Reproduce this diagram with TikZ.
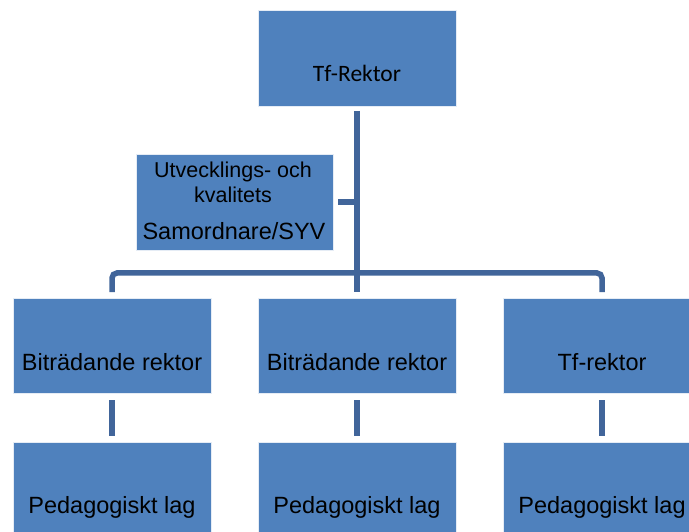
\documentclass[tikz,border=0pt]{standalone}
\usepackage{fontspec}
\setmainfont{Liberation Sans}
\newfontfamily\calib{Carlito}
\definecolor{boxblue}{HTML}{4F81BD}
\definecolor{lineblue}{HTML}{41659A}
\begin{document}
\begin{tikzpicture}[x=1pt,y=-1pt,
  box/.style={draw=white!85!boxblue,line width=0.6pt,fill=boxblue,minimum width=198pt,minimum height=96pt,inner sep=0pt,outer sep=0pt},
  lbl/.style={anchor=base,inner sep=0pt,font=\fontsize{23.5pt}{26pt}\selectfont},
  conn/.style={draw=lineblue,line width=5.5pt}]
\useasboundingbox (0,0) rectangle (689,532);
\begin{scope}
\clip (0,0) rectangle (689,532);
% boxes
\node[box] (top) at (357,58) {};
\node[box,minimum width=197pt] (side) at (234.5,202) {};
\node[box,minimum height=95pt] (b1) at (112,345.5) {};
\node[box,minimum height=95pt] (b2) at (357,345.5) {};
\node[box,minimum height=95pt] (b3) at (602,345.5) {};
\node[box] (p1) at (112,490) {};
\node[box] (p2) at (357,490) {};
\node[box] (p3) at (602,490) {};
% labels
\node[lbl,font=\calib\fontsize{23.5pt}{26pt}\selectfont] (ttop) at (357,82) {Tf-Rektor};
\node[lbl,font=\fontsize{21.5pt}{24pt}\selectfont] (ts1) at (233,178) {Utvecklings- och};
\node[lbl,font=\fontsize{21.5pt}{24pt}\selectfont] (ts2) at (233,203) {kvalitets};
\node[lbl] (ts3) at (234,240) {Samordnare/SYV};
\node[lbl] (tb1) at (112,370) {Biträdande rektor};
\node[lbl] (tb2) at (357,370) {Biträdande rektor};
\node[lbl] (tb3) at (602,370) {Tf-rektor};
\node[lbl] (tp1) at (112,513) {Pedagogiskt lag};
\node[lbl] (tp2) at (357,513) {Pedagogiskt lag};
\node[lbl] (tp3) at (602,513) {Pedagogiskt lag};
% connectors
\coordinate (hub) at (top.south |- 0,273);
\draw[conn] ([yshift=-5pt]top.south) -- ([yshift=6pt]b2.north);
\draw[conn,rounded corners=5pt] ([yshift=6pt]b1.north) |- (hub) -| ([yshift=6pt]b3.north);
\draw[conn] ([xshift=5pt]side.east) -- (top.south |- side.east);
\draw[conn] ([yshift=-7pt]b1.south) -- ([yshift=6pt]p1.north);
\draw[conn] ([yshift=-7pt]b2.south) -- ([yshift=6pt]p2.north);
\draw[conn] ([yshift=-7pt]b3.south) -- ([yshift=6pt]p3.north);
\end{scope}
\end{tikzpicture}
\end{document}
